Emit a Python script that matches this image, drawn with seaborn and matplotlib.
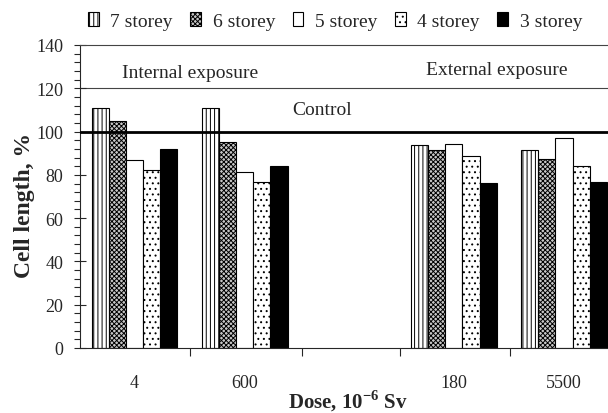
import matplotlib
matplotlib.use("Agg")
import matplotlib.pyplot as plt
import matplotlib.patches as mpatches
from matplotlib.ticker import MultipleLocator, FixedLocator, NullFormatter
import numpy as np
import pandas as pd
import seaborn as sns

# ---- data ----
doses = ["4", "600", "180", "5500"]
storeys = ["7 storey", "6 storey", "5 storey", "4 storey", "3 storey"]
seven = [110.9, 110.8, 94.0, 91.7]
six = [105.0, 95.4, 91.3, 87.2]
five = [86.9, 81.3, 94.4, 96.9]
four = [82.4, 76.7, 88.9, 84.3]
three = [92.0, 84.1, 76.2, 76.9]
control_level = 100
group_texts = ["Internal exposure", "External exposure"]

# ---- layout (not data) ----
group_pos = [0.0, 1.0, 2.9, 3.9]
boundary_ticks = [-0.5, 0.5, 1.52, 2.41, 3.41]

series = [seven, six, five, four, three]
rows = []
for s, vals in zip(storeys, series):
    for p, v in zip(group_pos, vals):
        rows.append({"pos": p, "value": v, "storey": s})
df = pd.DataFrame(rows)

sns.set_style("ticks")
plt.rcParams["font.family"] = ["Liberation Serif", "DejaVu Serif"]
plt.rcParams["mathtext.fontset"] = "custom"
plt.rcParams["mathtext.rm"] = "Liberation Serif"
plt.rcParams["mathtext.bf"] = "Liberation Serif:bold"
plt.rcParams["hatch.linewidth"] = 0.7

facecolors = {"7 storey": "white", "6 storey": "#c8c8c8", "5 storey": "white",
              "4 storey": "white", "3 storey": "black"}
hatches = {"7 storey": "||||", "6 storey": "xxxxxxx", "5 storey": "",
           "4 storey": "...", "3 storey": ""}

fig = plt.figure(figsize=(6.08, 4.14), dpi=100)
ax = fig.add_axes([80 / 608, 1 - 349 / 414, 1 - 80 / 608, (349 - 46) / 414])

sns.barplot(data=df, x="pos", y="value", hue="storey", hue_order=storeys,
            palette=facecolors, native_scale=True, width=0.78, saturation=1,
            edgecolor="black", linewidth=0.8, legend=False, ax=ax, errorbar=None)

for cont, s in zip(ax.containers, storeys):
    for patch in cont.patches:
        patch.set_hatch(hatches[s])
        patch.set_edgecolor("black")

ax.set_xlim(-0.495, 4.30)
ax.set_ylim(0, 140)

ax.axhline(120, color="#444444", lw=0.8, zorder=0)
ax.axhline(control_level, color="black", lw=2.0, zorder=3)

ax.text(0.5, 127.5, group_texts[0], ha="center", va="center", fontsize=14)
ax.text(3.29, 128.5, group_texts[1], ha="center", va="center", fontsize=14)
ax.text(1.7, 110, "Control", ha="center", va="center", fontsize=14)

ax.yaxis.set_major_locator(MultipleLocator(20))
ax.yaxis.set_minor_locator(MultipleLocator(4))
ax.tick_params(axis="y", which="major", direction="inout", length=8, width=0.8,
               labelsize=13, pad=8)
ax.tick_params(axis="y", which="minor", direction="out", length=4, width=0.8)

ax.xaxis.set_major_locator(FixedLocator(boundary_ticks))
ax.xaxis.set_major_formatter(NullFormatter())
ax.set_xticks(group_pos, labels=doses, minor=True)
ax.tick_params(axis="x", which="major", direction="out", length=6, width=0.8)
ax.tick_params(axis="x", which="minor", length=0, labelsize=13, pad=19)

ax.spines["right"].set_visible(False)
ax.spines["top"].set_linewidth(0.8)
ax.spines["top"].set_color("#444444")
ax.spines["left"].set_linewidth(0.8)
ax.spines["bottom"].set_linewidth(0.8)

ax.set_xlabel("")
ax.set_ylabel("")
fig.text(25 / 608, 1 - 205 / 414, "Cell length, %", rotation=90, ha="center",
         va="center", fontsize=17, fontweight="bold")
fig.text(348 / 608, 1 - 401 / 414, r"Dose, 10$^{\mathbf{-6}}$ Sv", ha="center",
         va="center", fontsize=15, fontweight="bold")

handles = [mpatches.Patch(facecolor=facecolors[s], hatch=hatches[s], edgecolor="black",
                          linewidth=0.8, label=s) for s in storeys]
fig.legend(handles=handles, loc="center", bbox_to_anchor=(0.551, 0.947), ncol=5,
           frameon=False, fontsize=14, handlelength=0.55, handleheight=0.75,
           handletextpad=0.6, columnspacing=0.9, borderpad=0)

fig.savefig("out.png", dpi=100)
